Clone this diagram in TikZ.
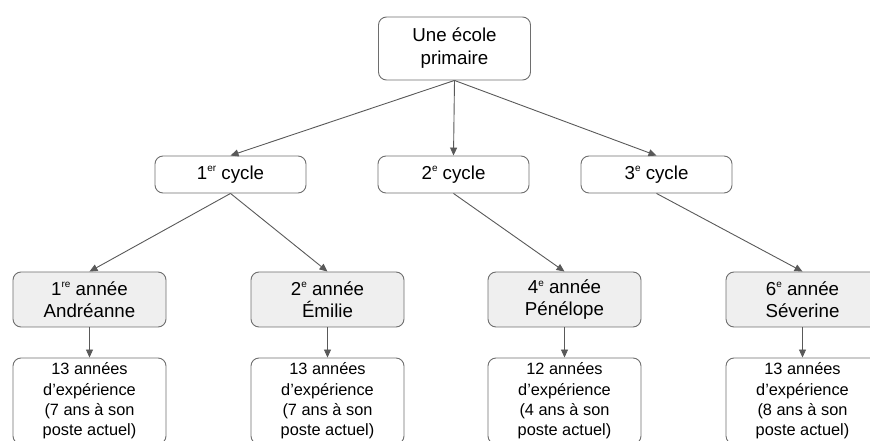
\documentclass[tikz,border=0pt]{standalone}
\usepackage{fontspec}
\setmainfont{Liberation Sans}
\usetikzlibrary{arrows.meta}
\definecolor{linegray}{HTML}{595959}
\definecolor{boxgray}{HTML}{6E6E6E}
\definecolor{fillgray}{HTML}{EFEFEF}
\newcommand{\supx}[1]{\raisebox{0.75ex}{\fontsize{10}{10}\selectfont #1}}
\tikzset{
  box/.style={draw=boxgray, line width=0.9bp, rounded corners=8bp, align=center,
    font=\fontsize{18.8}{23}\selectfont, inner sep=0pt, text=black},
  topbox/.style={box, minimum width=152bp, minimum height=63bp},
  cyclebox/.style={box, minimum width=151bp, minimum height=37bp},
  yearbox/.style={box, fill=fillgray, minimum width=153bp, minimum height=55bp, font=\fontsize{18.8}{22}\selectfont},
  infobox/.style={box, minimum width=153bp, minimum height=86bp, font=\fontsize{16.4}{20.3}\selectfont},
  conn/.style={draw=linegray, line width=0.9bp, -{Triangle[length=8bp,width=7bp]}},
}
\begin{document}
\begin{tikzpicture}[x=1bp,y=-1bp]
\useasboundingbox (0,0) rectangle (870,441);
\clip (0,0) rectangle (870,441);
\node[topbox] (top) at (454.5,48.5) {Une école\\primaire};
\node[cyclebox] (c1) at (230.5,174.5) {1\supx{er} cycle};
\node[cyclebox] (c2) at (453.5,174.5) {2\supx{e} cycle};
\node[cyclebox] (c3) at (656.5,174.5) {3\supx{e} cycle};
\node[yearbox] (a1) at (89.5,299.5) {1\supx{re} année\\Andréanne};
\node[yearbox] (a2) at (327.5,299.5) {2\supx{e} année\\Émilie};
\node[yearbox] (a4) at (564.5,299.5) {4\supx{e} année\\Pénélope};
\node[yearbox] (a6) at (802.5,299.5) {6\supx{e} année\\Séverine};
\node[infobox] (b1) at (89.5,401) {13 années\\d’expérience\\(7 ans à son\\poste actuel)};
\node[infobox] (b2) at (327.5,401) {13 années\\d’expérience\\(7 ans à son\\poste actuel)};
\node[infobox] (b4) at (564.5,401) {12 années\\d’expérience\\(4 ans à son\\poste actuel)};
\node[infobox] (b6) at (802.5,401) {13 années\\d’expérience\\(8 ans à son\\poste actuel)};
\draw[conn] (top.south) -- (c1.north);
\draw[conn] (top.south) -- (c2.north);
\draw[conn] (top.south) -- (c3.north);
\draw[conn] (c1.south) -- (a1.north);
\draw[conn] (c1.south) -- (a2.north);
\draw[conn] (c2.south) -- (a4.north);
\draw[conn] (c3.south) -- (a6.north);
\draw[conn] (a1.south) -- (b1.north);
\draw[conn] (a2.south) -- (b2.north);
\draw[conn] (a4.south) -- (b4.north);
\draw[conn] (a6.south) -- (b6.north);
\end{tikzpicture}
\end{document}
